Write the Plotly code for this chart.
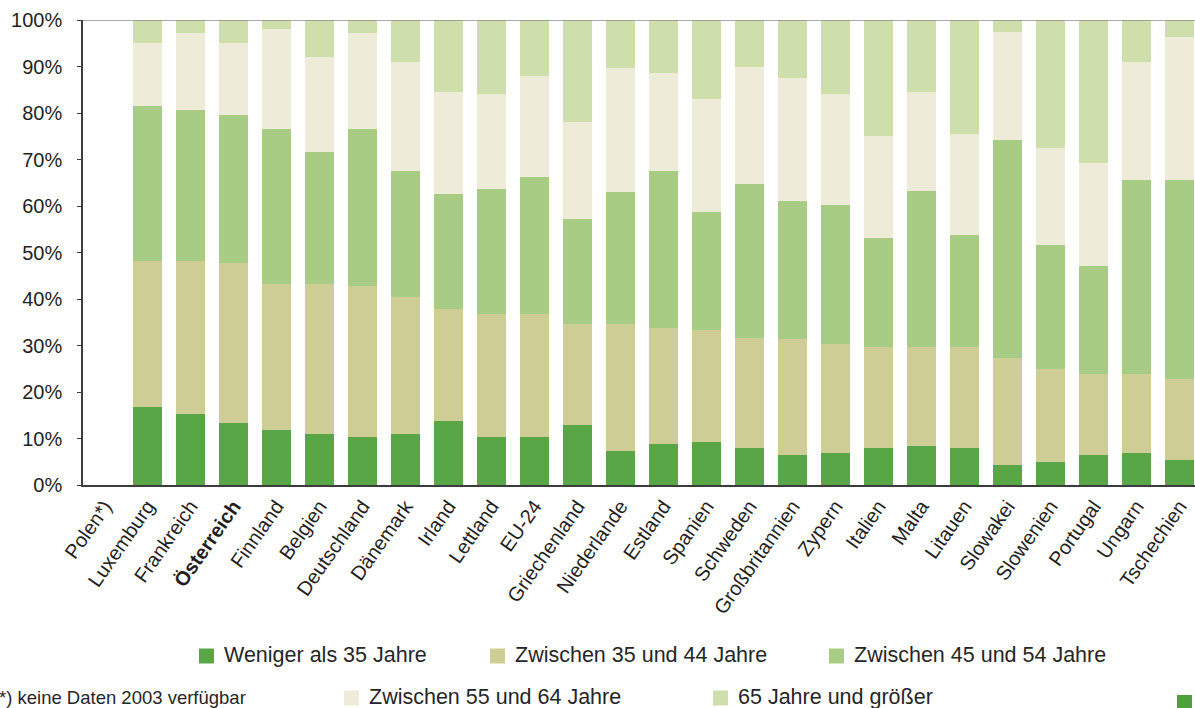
import plotly.graph_objects as go

# Länder (Polen ohne Daten)
countries = [
    "Polen*)", "Luxemburg", "Frankreich", "<b>Österreich</b>", "Finnland", "Belgien",
    "Deutschland", "Dänemark", "Irland", "Lettland", "EU-24", "Griechenland",
    "Niederlande", "Estland", "Spanien", "Schweden", "Großbritannien", "Zypern",
    "Italien", "Malta", "Litauen", "Slowakei", "Slowenien", "Portugal", "Ungarn",
    "Tschechien",
]

# Anteile der Altersgruppen in %
under_35 = [None, 16.8, 15.3, 13.3, 11.8, 11.0, 10.3, 11.0, 13.8, 10.3, 10.3, 12.9,
            7.3, 8.8, 9.2, 8.0, 6.5, 6.9, 8.0, 8.4, 8.0, 4.3, 4.9, 6.5, 6.9, 5.4]
age_35_44 = [None, 31.4, 32.9, 34.5, 31.5, 32.3, 32.5, 29.4, 24.0, 26.5, 26.5, 21.7,
             27.3, 25.0, 24.1, 23.6, 24.9, 23.4, 21.7, 21.3, 21.7, 23.0, 20.0, 17.4, 17.0, 17.4]
age_45_54 = [None, 33.3, 32.4, 31.8, 33.3, 28.3, 33.8, 27.1, 24.8, 26.9, 29.4, 22.6,
             28.4, 33.7, 25.4, 33.1, 29.7, 29.9, 23.4, 33.5, 24.1, 46.9, 26.7, 23.2, 41.7, 42.8]
age_55_64 = [None, 13.6, 16.5, 15.5, 21.5, 20.4, 20.5, 23.5, 21.9, 20.4, 21.8, 20.9,
             26.7, 21.1, 24.3, 25.2, 26.4, 23.9, 22.0, 21.3, 21.7, 23.2, 20.9, 22.1, 25.4, 30.7]
age_65_plus = [None, 4.9, 2.9, 4.9, 1.9, 8.0, 2.9, 9.0, 15.5, 15.9, 12.0, 21.9,
               10.3, 11.4, 17.0, 10.1, 12.5, 15.9, 24.9, 15.5, 24.5, 2.6, 27.5, 30.8, 9.0, 3.7]

y_ticks = list(range(0, 101, 10))
y_tick_labels = [f"{v}%" for v in y_ticks]

series_names = [
    "Weniger als 35 Jahre", "Zwischen 35 und 44 Jahre", "Zwischen 45 und 54 Jahre",
    "Zwischen 55 und 64 Jahre", "65 Jahre und größer",
]
series_values = [under_35, age_35_44, age_45_54, age_55_64, age_65_plus]
series_colors = ["#58a645", "#cfcd96", "#a8cc84", "#eeebd8", "#cfdfac"]

FONT = "Arial, Liberation Sans, sans-serif"
TEXT = "#231f20"

# plot area in pixels: x 83..1195, y 20..485
PX_L, PX_W, PX_B, PX_H = 83, 1112, 485, 465


def px_x(px):
    return (px - PX_L) / PX_W


def px_y(py):
    return (PX_B - py) / PX_H


x = list(range(len(countries)))

fig = go.Figure()
for name, vals, color in zip(series_names, series_values, series_colors):
    fig.add_trace(go.Bar(
        name=name,
        x=x,
        y=vals,
        marker_color=color,
        marker_line_width=0,
        hovertemplate=f"{name}: %{{y:.1f}}%<extra></extra>",
    ))

# hand-placed legend, two rows like the original
legend_pos = [(199, 656), (490, 656), (829, 656), (344, 698), (713, 698)]
shapes = []
annotations = []
for name, color, (lx, ly) in zip(series_names, series_colors, legend_pos):
    shapes.append(dict(
        type="rect", xref="paper", yref="paper",
        x0=px_x(lx), x1=px_x(lx + 15), y0=px_y(ly + 7.5), y1=px_y(ly - 7.5),
        fillcolor=color, line_width=0,
    ))
    annotations.append(dict(
        text=name, xref="paper", yref="paper", x=px_x(lx + 23), y=px_y(ly - 1),
        xanchor="left", yanchor="middle", showarrow=False,
        font=dict(family=FONT, size=21.5, color="#262626"),
    ))

annotations.append(dict(
    text="*) keine Daten 2003 verfügbar", xref="paper", yref="paper",
    x=px_x(-3), y=px_y(697), xanchor="left", yanchor="middle", showarrow=False,
    font=dict(family=FONT, size=18.5, color="#262626"),
))

# top border line at 100 %
shapes.append(dict(
    type="line", xref="paper", yref="y", x0=0, x1=1, y0=100, y1=100,
    line=dict(color="#8c8c8c", width=1.5),
))
# small logo square bottom right
shapes.append(dict(
    type="rect", xref="paper", yref="paper",
    x0=px_x(1177), x1=px_x(1192), y0=px_y(710), y1=px_y(695),
    fillcolor="#4f9f3b", line_width=0,
))

fig.update_layout(
    width=1195,
    height=708,
    barmode="stack",
    bargap=0.33,
    showlegend=False,
    paper_bgcolor="white",
    plot_bgcolor="white",
    margin=dict(l=PX_L, r=0, t=20, b=223),
    font=dict(family=FONT, size=20, color=TEXT),
    shapes=shapes,
    annotations=annotations,
)
fig.update_xaxes(
    range=[-0.5, 25.36],
    tickmode="array",
    tickvals=x,
    ticktext=countries,
    tickangle=-55,
    tickfont=dict(family=FONT, size=20, color=TEXT),
    showline=True,
    linecolor="#3c3c3c",
    linewidth=1.5,
    ticks="",
    showgrid=False,
    zeroline=False,
)
fig.update_yaxes(
    range=[0, 100],
    tickmode="array",
    tickvals=y_ticks,
    ticktext=y_tick_labels,
    ticks="outside",
    ticklen=4,
    tickcolor="#3c3c3c",
    ticklabelstandoff=11,
    tickfont=dict(family=FONT, size=20, color=TEXT),
    showline=True,
    linecolor="#3c3c3c",
    linewidth=1.5,
    showgrid=False,
    zeroline=False,
)

# page has a default body margin; drop it so the chart sits at 0,0
fig.write_html(
    "out.html",
    config={"displayModeBar": False},
    post_script="document.body.style.margin='0';",
)
